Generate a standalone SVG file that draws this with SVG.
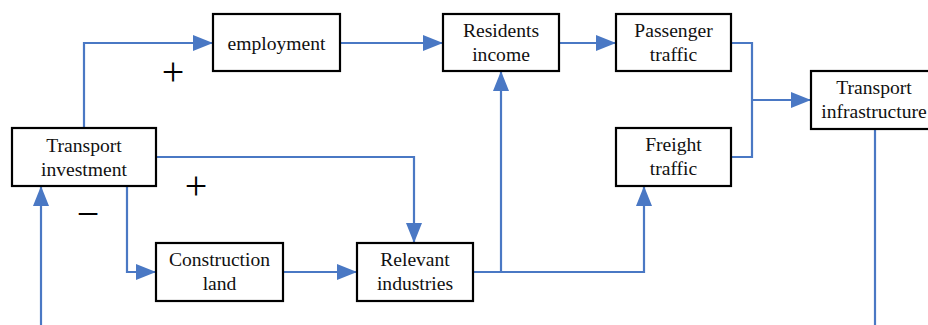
<svg xmlns="http://www.w3.org/2000/svg" width="928" height="325" viewBox="0 0 928 325">
<style>
.box{fill:#fff;stroke:#000;stroke-width:2.2}
.t{font-family:"Liberation Serif","Times New Roman",serif;font-size:19.6px;fill:#111;text-anchor:middle}
.s{font-family:"Liberation Serif","Times New Roman",serif;font-size:40px;fill:#000;text-anchor:middle}
.c{fill:none;stroke:#4A78C4;stroke-width:2.2}
</style>
<defs>
<marker id="ah" markerUnits="userSpaceOnUse" markerWidth="20" markerHeight="16" refX="20" refY="8" orient="auto">
<path d="M0,0 L20,8 L0,16 Z" fill="#4A78C4"/>
</marker>
</defs>
<rect width="928" height="325" fill="#fff"/>
<g id="connectors">
<path class="c" d="M84,128 V43 H213" marker-end="url(#ah)"/>
<path class="c" d="M340,43 H443" marker-end="url(#ah)"/>
<path class="c" d="M559,43 H616" marker-end="url(#ah)"/>
<path class="c" d="M731,43 H752 V157 H731"/>
<path class="c" d="M752,100 H811" marker-end="url(#ah)"/>
<path class="c" d="M156,157 H414 V243" marker-end="url(#ah)"/>
<path class="c" d="M127,186 V272 H156" marker-end="url(#ah)"/>
<path class="c" d="M283,272 H357" marker-end="url(#ah)"/>
<path class="c" d="M473,272 H644 V186" marker-end="url(#ah)"/>
<path class="c" d="M501,272 V71" marker-end="url(#ah)"/>
<path class="c" d="M875,129 V325"/>
<path class="c" d="M41,325 V186" marker-end="url(#ah)"/>
</g>
<g id="signs">
<text class="s" x="173" y="85">+</text>
<text class="s" x="196" y="199">+</text>
<text class="s" x="88" y="227">−</text>
</g>
<g id="transport-investment">
<rect class="box" x="12" y="128" width="144" height="58"/>
<text class="t" x="84" y="152">Transport</text>
<text class="t" x="84" y="176">investment</text>
</g>
<g id="employment">
<rect class="box" x="213" y="14" width="127" height="57"/>
<text class="t" x="276.5" y="50">employment</text>
</g>
<g id="residents-income">
<rect class="box" x="443" y="14" width="116" height="57"/>
<text class="t" x="501" y="37">Residents</text>
<text class="t" x="501" y="61">income</text>
</g>
<g id="passenger-traffic">
<rect class="box" x="616" y="14" width="115" height="57"/>
<text class="t" x="673.5" y="37">Passenger</text>
<text class="t" x="673.5" y="61">traffic</text>
</g>
<g id="freight-traffic">
<rect class="box" x="616" y="128" width="115" height="58"/>
<text class="t" x="673.5" y="151">Freight</text>
<text class="t" x="673.5" y="175">traffic</text>
</g>
<g id="transport-infrastructure">
<rect class="box" x="811" y="71" width="130" height="58"/>
<text class="t" x="874" y="94">Transport</text>
<text class="t" x="874" y="118">infrastructure</text>
</g>
<g id="construction-land">
<rect class="box" x="156" y="243" width="127" height="58"/>
<text class="t" x="219.5" y="266">Construction</text>
<text class="t" x="219.5" y="290">land</text>
</g>
<g id="relevant-industries">
<rect class="box" x="357" y="243" width="116" height="58"/>
<text class="t" x="415" y="266">Relevant</text>
<text class="t" x="415" y="290">industries</text>
</g>
</svg>
